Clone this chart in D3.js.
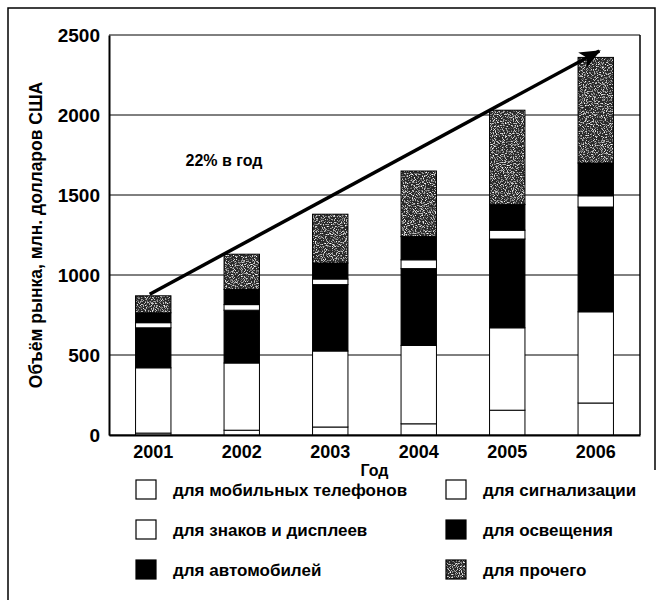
<html>
<head>
<meta charset="utf-8">
<title>Рынок светодиодов</title>
<style>
  body { margin: 0; background: #fff; }
  text { font-family: "Liberation Sans", Arial, sans-serif; font-weight: bold; fill: #000; }
</style>
</head>
<body>
<script src="https://cdn.jsdelivr.net/npm/d3@7/dist/d3.min.js"></script>
<script>
// данные, млн. долларов США
var years = ["2001", "2002", "2003", "2004", "2005", "2006"];
var mobile  = [12, 30, 50, 70, 155, 200];    // для мобильных телефонов
var signs   = [408, 420, 475, 490, 515, 570]; // для знаков и дисплеев
var auto    = [250, 330, 415, 480, 555, 655]; // для автомобилей
var signal  = [32, 35, 35, 55, 55, 70];       // для сигнализации
var light   = [62, 95, 100, 145, 160, 205];   // для освещения
var other   = [106, 220, 305, 410, 590, 660]; // для прочего
var yTicks = [0, 500, 1000, 1500, 2000, 2500];
var trend = [{year: "2001", value: 880}, {year: "2006", value: 2400}];
var trendLabel = "22% в год";

var seriesNames = ["mobile", "signs", "auto", "signal", "light", "other"];
var legendNames = ["для мобильных телефонов", "для знаков и дисплеев", "для автомобилей",
                   "для сигнализации", "для освещения", "для прочего"];
var fills = {mobile: "#fff", signs: "#fff", auto: "#000", signal: "#fff", light: "#000", other: "url(#speckleFill)"};

var table = years.map(function(y, i) {
  return {year: y, mobile: mobile[i], signs: signs[i], auto: auto[i],
          signal: signal[i], light: light[i], other: other[i]};
});

var width = 662, height = 600;
var margin = {left: 109, right: 22, top: 35, bottom: 165};

var svg = d3.select("body").append("svg")
  .attr("width", width)
  .attr("height", height);

// текстура "прочего"
var defs = svg.append("defs");
var flt = defs.append("filter").attr("id", "speckle")
  .attr("x", 0).attr("y", 0).attr("width", 1).attr("height", 1);
flt.append("feTurbulence").attr("type", "fractalNoise")
  .attr("baseFrequency", 0.9).attr("numOctaves", 2).attr("seed", 7).attr("result", "noise");
flt.append("feColorMatrix").attr("in", "noise").attr("type", "matrix")
  .attr("values", "0 0 0 0 1  0 0 0 0 1  0 0 0 0 1  -3.5 0 0 0 1.7")
  .attr("result", "dots");
flt.append("feComposite").attr("in", "dots").attr("in2", "SourceGraphic").attr("operator", "in").attr("result", "d2");
var mg = flt.append("feMerge");
mg.append("feMergeNode").attr("in", "SourceGraphic");
mg.append("feMergeNode").attr("in", "d2");

var pat = defs.append("pattern").attr("id", "speckleFill")
  .attr("patternUnits", "userSpaceOnUse").attr("width", 120).attr("height", 120);
pat.append("rect").attr("width", 120).attr("height", 120).attr("fill", "#2a2a2a").attr("filter", "url(#speckle)");

// рамка
svg.append("path")
  .attr("d", "M8,600 L8,8 L655,8 L655,470")
  .attr("fill", "none").attr("stroke", "#000").attr("stroke-width", 1.5);

var x = d3.scaleBand().domain(years)
  .range([margin.left, width - margin.right])
  .paddingInner(0.6).paddingOuter(0.3);
var y = d3.scaleLinear().domain([0, 2500]).range([height - margin.bottom, margin.top]);

// сетка
svg.append("g").selectAll("line").data(yTicks).enter().append("line")
  .attr("x1", margin.left).attr("x2", width - margin.right)
  .attr("y1", function(d) { return y(d); }).attr("y2", function(d) { return y(d); })
  .attr("stroke", "#000").attr("stroke-width", 1);
svg.append("line")
  .attr("x1", width - margin.right).attr("x2", width - margin.right)
  .attr("y1", y(0)).attr("y2", y(2500)).attr("stroke", "#000").attr("stroke-width", 1.5);

var stack = d3.stack().keys(seriesNames);
var layers = stack(table);

svg.append("g").selectAll("g").data(layers).enter().append("g")
  .attr("fill", function(d) { return fills[d.key]; })
  .selectAll("rect").data(function(d) { return d; }).enter().append("rect")
  .attr("x", function(d) { return x(d.data.year); })
  .attr("width", x.bandwidth())
  .attr("y", function(d) { return y(d[1]); })
  .attr("height", function(d) { return y(d[0]) - y(d[1]); })
  .attr("stroke", "#000").attr("stroke-width", 1);

// оси
var yAxis = svg.append("g").attr("transform", "translate(" + margin.left + ",0)")
  .call(d3.axisLeft(y).tickValues(yTicks).tickFormat(d3.format("d")).tickSize(0).tickPadding(9));
yAxis.select(".domain").attr("stroke-width", 2);
yAxis.selectAll("text").attr("font-size", 19).style("font-family", null);

var xAxis = svg.append("g").attr("transform", "translate(0," + y(0) + ")")
  .call(d3.axisBottom(x).tickSize(0).tickPadding(10));
xAxis.select(".domain").attr("stroke-width", 2);
xAxis.selectAll("text").attr("font-size", 18).style("font-family", null);

svg.append("text")
  .attr("transform", "translate(42," + ((y(0) + y(2500)) / 2) + ") rotate(-90)")
  .attr("text-anchor", "middle").attr("font-size", 17.5)
  .text("Объём рынка, млн. долларов США");

svg.append("text")
  .attr("x", (margin.left + width - margin.right) / 2).attr("y", 476)
  .attr("text-anchor", "middle").attr("font-size", 16)
  .text("Год");

// стрелка роста
defs.append("marker").attr("id", "arrowHead")
  .attr("viewBox", "0 0 12 10").attr("refX", 11).attr("refY", 5)
  .attr("markerWidth", 7).attr("markerHeight", 5).attr("orient", "auto")
  .attr("markerUnits", "strokeWidth")
  .append("path").attr("d", "M0,0 L12,5 L0,10 L3,5 z").attr("fill", "#000");

svg.append("line")
  .attr("x1", x(trend[0].year) + x.bandwidth() * 0.4)
  .attr("y1", y(trend[0].value))
  .attr("x2", x(trend[1].year) + x.bandwidth() * 0.6)
  .attr("y2", y(trend[1].value))
  .attr("stroke", "#000").attr("stroke-width", 3.5)
  .attr("marker-end", "url(#arrowHead)");

svg.append("text")
  .attr("x", 224).attr("y", 166)
  .attr("text-anchor", "middle").attr("font-size", 16)
  .text(trendLabel);

// легенда
var legend = svg.append("g").selectAll("g").data(seriesNames).enter().append("g")
  .attr("transform", function(d, i) {
    return "translate(" + (i < 3 ? 136 : 446) + "," + (480 + (i % 3) * 40) + ")";
  });
legend.append("rect")
  .attr("width", 20).attr("height", 19)
  .attr("fill", function(d) { return fills[d]; })
  .attr("stroke", "#000").attr("stroke-width", 1.2);
legend.append("text")
  .attr("x", 37).attr("y", 15.5)
  .attr("font-size", 17)
  .text(function(d, i) { return legendNames[i]; });
</script>
</body>
</html>
